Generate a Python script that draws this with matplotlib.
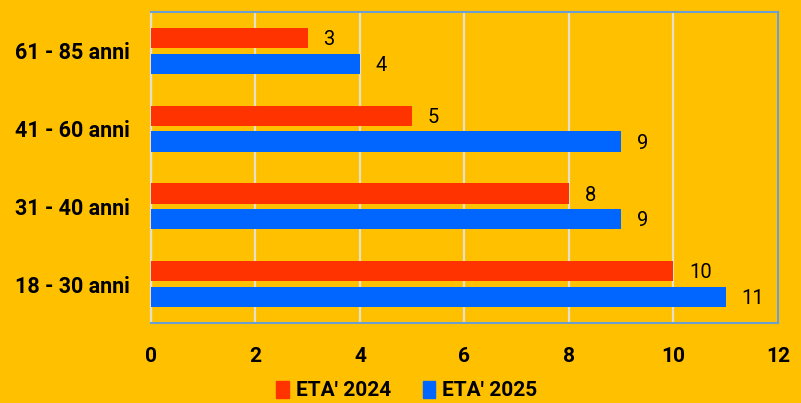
import numpy as np
import matplotlib
matplotlib.use('Agg')
import matplotlib.pyplot as plt
from matplotlib.patches import Patch

# data
categories = ['18 - 30 anni', '31 - 40 anni', '41 - 60 anni', '61 - 85 anni']
eta_2024 = [10, 8, 5, 3]
eta_2025 = [11, 9, 9, 4]
series_names = ["ETA' 2024", "ETA' 2025"]
xticks = [0, 2, 4, 6, 8, 10, 12]

bg = '#FFC000'
red = '#FF3300'
blue = '#0066FF'

plt.rcParams['font.family'] = ['Roboto', 'DejaVu Sans']

fig = plt.figure(figsize=(8.01, 4.03), dpi=100, facecolor=bg)
ax = fig.add_axes([0.1885, 0.1985, 0.7825, 0.7715])
ax.set_facecolor(bg)

y = np.arange(len(categories))
h = 0.26
off = 0.165
b1 = ax.barh(y + off, eta_2024, height=h, color=red, zorder=3)
b2 = ax.barh(y - off, eta_2025, height=h, color=blue, zorder=3)

for bars, vals in ((b1, eta_2024), (b2, eta_2025)):
    for rect, v in zip(bars, vals):
        ax.text(v + 0.3, rect.get_y() + rect.get_height() / 2 - 0.02, str(v),
                va='center', ha='left', fontsize=14.5, color='black')

ax.set_xlim(0, 12)
ax.set_ylim(-0.5, len(categories) - 0.5)
ax.set_xticks(xticks)
ax.set_xticklabels([str(t) for t in xticks], fontsize=15, fontweight='bold')
ax.set_yticks(y)
ax.set_yticklabels(categories, fontsize=15.5, fontweight='bold')
ax.tick_params(axis='x', length=0, pad=17)
ax.tick_params(axis='y', length=0, pad=15)

ax.grid(axis='x', color='#E6E0C8', linewidth=1.6, zorder=1)
for side in ('top', 'right', 'bottom'):
    ax.spines[side].set_color('#6A9FCF')
    ax.spines[side].set_linewidth(1.5)
ax.spines['left'].set_color('#E6E0C8')
ax.spines['left'].set_linewidth(1.6)

handles = [Patch(color=red, label=series_names[0]),
           Patch(color=blue, label=series_names[1])]
fig.legend(handles=handles, loc='lower center', bbox_to_anchor=(0.508, -0.04),
           ncol=2, frameon=False, prop={'size': 15, 'weight': 'bold'},
           handlelength=0.6, handleheight=0.9, handletextpad=0.35,
           columnspacing=1.5)

fig.savefig('out.png', dpi=100, facecolor=bg)
